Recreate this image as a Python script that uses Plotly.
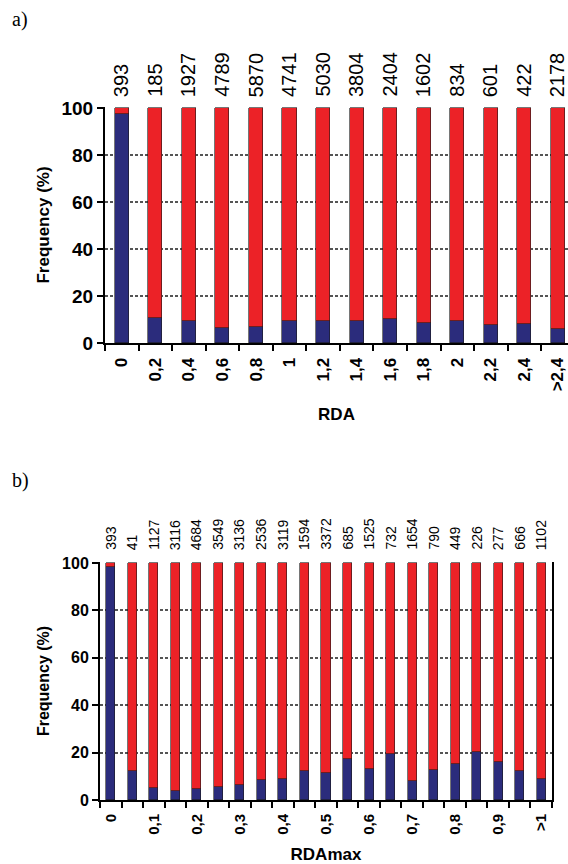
import plotly.graph_objects as go

# ---- Panel a) RDA ----
rda_cats = ["0", "0,2", "0,4", "0,6", "0,8", "1", "1,2", "1,4", "1,6", "1,8", "2", "2,2", "2,4", ">2,4"]
rda_counts = [393, 185, 1927, 4789, 5870, 4741, 5030, 3804, 2404, 1602, 834, 601, 422, 2178]
rda_blue = [97.5, 10.6, 9.2, 6.3, 6.8, 9.3, 9.2, 9.2, 10.3, 8.5, 9.2, 7.7, 8.2, 5.9]
rda_red = [2.5, 89.4, 90.8, 93.7, 93.2, 90.7, 90.8, 90.8, 89.7, 91.5, 90.8, 92.3, 91.8, 94.1]

# ---- Panel b) RDAmax ----
rmax_cats = ["0", "0,05", "0,1", "0,15", "0,2", "0,25", "0,3", "0,35", "0,4", "0,45", "0,5",
             "0,55", "0,6", "0,65", "0,7", "0,75", "0,8", "0,85", "0,9", "0,95", ">1"]
rmax_ticktext = ["0", "", "0,1", "", "0,2", "", "0,3", "", "0,4", "", "0,5",
                 "", "0,6", "", "0,7", "", "0,8", "", "0,9", "", ">1"]
rmax_counts = [393, 41, 1127, 3116, 4684, 3549, 3136, 2536, 3119, 1594, 3372,
               685, 1525, 732, 1654, 790, 449, 226, 277, 666, 1102]
rmax_blue = [98.2, 12.3, 4.9, 3.9, 4.5, 5.3, 6.2, 8.4, 8.7, 12.3, 11.6,
             17.5, 12.9, 19.2, 8.1, 12.6, 15.1, 20.3, 16.2, 12.2, 8.8]
rmax_red = [1.8, 87.7, 95.1, 96.1, 95.5, 94.7, 93.8, 91.6, 91.3, 87.7, 88.4,
            82.5, 87.1, 80.8, 91.9, 87.4, 84.9, 79.7, 83.8, 87.8, 91.2]

BLUE = "#2B2C7C"
RED = "#EC2227"
FONT = "Liberation Sans"
W, H = 568, 864

fig = go.Figure()

def add_bars(cats, blue, red, xa, ya):
    fig.add_trace(go.Bar(x=cats, y=blue, marker=dict(color=BLUE, line=dict(color="#1a1a1a", width=0.6)),
                         width=0.42, xaxis=xa, yaxis=ya, showlegend=False))
    fig.add_trace(go.Bar(x=cats, y=red, marker=dict(color=RED, line=dict(color="#1a1a1a", width=0.6)),
                         width=0.42, xaxis=xa, yaxis=ya, showlegend=False))

add_bars(rda_cats, rda_blue, rda_red, "x", "y")
add_bars(rmax_cats, rmax_blue, rmax_red, "x2", "y2")

def py(p):
    return 1 - p / H

common_y = dict(range=[0, 100.4], tickvals=[0, 20, 40, 60, 80, 100], automargin=False,
                showline=True, linecolor="black", linewidth=2, mirror=True,
                ticks="outside", ticklen=6, tickwidth=2, tickcolor="black",
                showgrid=True, gridcolor="#555555", gridwidth=2, griddash="3px,2px",
                zeroline=False)
common_x = dict(type="category", showline=True, linecolor="black", linewidth=2, automargin=False,
                ticks="outside", ticklen=6, tickwidth=2, tickcolor="black", ticklabelstandoff=6,
                tickson="boundaries", tickangle=-90, showgrid=False)

fig.update_layout(
    width=W, height=H, margin=dict(l=0, r=0, t=0, b=0),
    plot_bgcolor="white", paper_bgcolor="white", barmode="stack", bargap=0,
    xaxis=dict(**common_x, domain=[105 / W, 1.0], range=[-0.5, 13.3],
               tickfont=dict(family=FONT, size=17, weight="bold", color="black"),
               title=dict(text="RDA", font=dict(family=FONT, size=17, weight="bold", color="black"), standoff=18),
               anchor="y"),
    yaxis=dict(**common_y, domain=[py(343), py(107)], anchor="x",
               tickfont=dict(family=FONT, size=19, weight="bold", color="black"),
               title=dict(text="Frequency (%)", font=dict(family=FONT, size=17, weight="bold", color="black"), standoff=8)),
    xaxis2=dict(**common_x, domain=[100 / W, 552 / W], range=[-0.5, 20.5],
                tickvals=rmax_cats, ticktext=rmax_ticktext,
                tickfont=dict(family=FONT, size=15, weight="bold", color="black"),
                title=dict(text="RDAmax", font=dict(family=FONT, size=17, weight="bold", color="black"), standoff=14),
                anchor="y2"),
    yaxis2=dict(**common_y, domain=[py(800), py(562)], anchor="x2",
                tickfont=dict(family=FONT, size=16, weight="bold", color="black"),
                title=dict(text="Frequency (%)", font=dict(family=FONT, size=16, weight="bold", color="black"), standoff=8)),
)

annotations = []
for i, n in enumerate(rda_counts):
    annotations.append(dict(x=i, y=100, xref="x", yref="y", text=str(n), showarrow=False,
                            textangle=-90, yanchor="bottom", xanchor="center", yshift=9,
                            font=dict(family=FONT, size=20, color="black")))
for i, n in enumerate(rmax_counts):
    annotations.append(dict(x=i, y=100, xref="x2", yref="y2", text=str(n), showarrow=False,
                            textangle=-90, yanchor="bottom", xanchor="center", yshift=11,
                            font=dict(family=FONT, size=14, color="black")))
annotations.append(dict(x=10 / W, y=py(20), xref="paper", yref="paper", text="a)", showarrow=False,
                        xanchor="left", yanchor="middle", font=dict(family="Liberation Serif", size=20, color="black")))
annotations.append(dict(x=10 / W, y=py(481), xref="paper", yref="paper", text="b)", showarrow=False,
                        xanchor="left", yanchor="middle", font=dict(family="Liberation Serif", size=20, color="black")))
fig.update_layout(annotations=annotations)

fig.write_html("out.html")
